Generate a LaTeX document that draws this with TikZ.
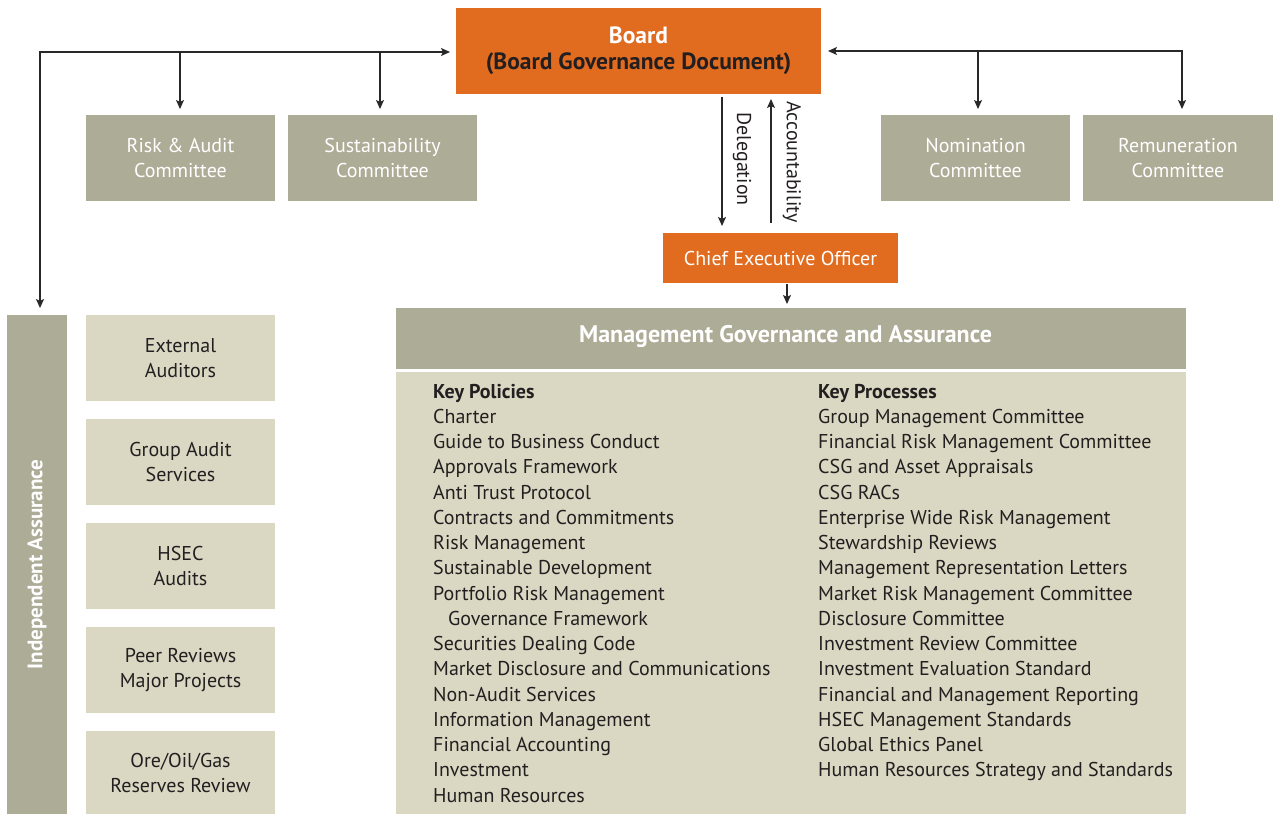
\documentclass[tikz,border=0pt]{standalone}
\usepackage{fontspec}
\setmainfont{PT Sans}
\usetikzlibrary{arrows.meta}
\definecolor{corange}{RGB}{225,108,32}
\definecolor{cgray}{RGB}{173,172,151}
\definecolor{clight}{RGB}{218,216,195}
\definecolor{ctext}{RGB}{35,31,32}
\definecolor{cline}{RGB}{40,40,40}
\newcommand{\fsz}[2]{\fontsize{#1}{#2}\selectfont}
\begin{document}
\begin{tikzpicture}[x=1pt,y=-1pt,
  base/.style={inner sep=0pt, outer sep=0pt, align=center},
  gbox/.style={base, fill=cgray, text=white, font=\fsz{20}{25}},
  lbox/.style={base, fill=clight, text=ctext, font=\fsz{20}{25}},
  obox/.style={base, fill=corange, text=white},
  arr/.style={draw=cline, line width=1.3pt, -{Stealth[length=9pt,width=8pt,inset=2pt]}},
  darr/.style={draw=cline, line width=1.3pt, {Stealth[length=9pt,width=8pt,inset=2pt]}-{Stealth[length=9pt,width=8pt,inset=2pt]}},
  lbl/.style={inner sep=0pt, text=ctext, font=\fsz{20}{25}},
  listtxt/.style={inner sep=0pt, text=ctext, font=\fsz{20}{25}, anchor=base west}]
\useasboundingbox (0,0) rectangle (1273,814);
% Board and CEO
\node[obox, minimum width=365pt, minimum height=86pt, font=\fsz{23.5}{26}\bfseries] (board) at (638.5,51)
  {Board\\{\color{ctext}(Board Governance Document)}};
\node[obox, minimum width=235pt, minimum height=50pt, font=\fsz{20}{25}] (ceo) at (780.5,258) {Chief Executive Officer};
% Committees
\node[gbox, minimum width=189pt, minimum height=86pt] (risk) at (180.5,158) {Risk \& Audit\\Committee};
\node[gbox, minimum width=189pt, minimum height=86pt] (sust) at (382.5,158) {Sustainability\\Committee};
\node[gbox, minimum width=189pt, minimum height=86pt] (nom) at (975.5,158) {Nomination\\Committee};
\node[gbox, minimum width=190pt, minimum height=86pt] (rem) at (1178,158) {Remuneration\\Committee};
% Independent assurance
\node[gbox, minimum width=60pt, minimum height=499pt] (ia) at (37,564.5) {};
\node[text=white, font=\fsz{21}{25}\bfseries, rotate=90, inner sep=0pt] (ialbl) at (ia.center) {Independent Assurance};
\node[lbox, minimum width=189pt, minimum height=86pt] (ea) at (180.5,358) {External\\Auditors};
\node[lbox, minimum width=189pt, minimum height=86pt] (gas) at (180.5,462) {Group Audit\\Services};
\node[lbox, minimum width=189pt, minimum height=86pt] (hsec) at (180.5,566) {HSEC\\Audits};
\node[lbox, minimum width=189pt, minimum height=86pt] (peer) at (180.5,670) {Peer Reviews\\Major Projects};
\node[lbox, minimum width=189pt, minimum height=83pt] (ore) at (180.5,772.5) {Ore/Oil/Gas\\Reserves Review};
% Management governance
\node[base, fill=cgray, minimum width=790pt, minimum height=61pt] (mga) at (791,338.5) {};
\node[text=white, font=\fsz{24}{26}\bfseries, inner sep=0pt] (mgalbl) at (785.5,336) {Management Governance and Assurance};
\node[base, fill=clight, minimum width=790pt, minimum height=442pt] (mgbody) at (791,593) {};
\node[listtxt, font=\fsz{20}{25}\bfseries] (kpol) at (433,398) {Key Policies};
\foreach \t [count=\i] in {Charter, Guide to Business Conduct, Approvals Framework, Anti Trust Protocol,
  Contracts and Commitments, Risk Management, Sustainable Development, Portfolio Risk Management,
  \hspace*{15pt}Governance Framework, Securities Dealing Code, Market Disclosure and Communications,
  Non-Audit Services, Information Management, Financial Accounting, Investment, Human Resources}
  {\node[listtxt] (pol\i) at (433,{398+25.25*\i}) {\t};}
\node[listtxt, font=\fsz{20}{25}\bfseries] (kproc) at (818,398) {Key Processes};
\foreach \t [count=\i] in {Group Management Committee, Financial Risk Management Committee,
  CSG and Asset Appraisals, CSG RACs, Enterprise Wide Risk Management, Stewardship Reviews,
  Management Representation Letters, Market Risk Management Committee, Disclosure Committee,
  Investment Review Committee, Investment Evaluation Standard, Financial and Management Reporting,
  HSEC Management Standards, Global Ethics Panel, Human Resources Strategy and Standards}
  {\node[listtxt] (proc\i) at (818,{398+25.25*\i}) {\t};}
% Junctions
\coordinate (jl) at (40,52);
\coordinate (jr) at (1182,51);
\coordinate (bra) at (180,52);
\coordinate (bsu) at (380,52);
\coordinate (bno) at (978,51);
\coordinate (dx) at (722,0);
\coordinate (ax) at (771,0);
\coordinate (cx) at (787,0);
% Connectors
\draw[darr, shorten <=6pt, shorten >=7pt] (jl -| board.west) -- (jl) -- (jl |- ia.north);
\draw[arr, shorten >=6pt] (bra) -- (bra |- risk.north);
\draw[arr, shorten >=6pt] (bsu) -- (bsu |- sust.north);
\draw[darr, shorten <=7pt, shorten >=6pt] (jr -| board.east) -- (jr) -- (jr |- rem.north);
\draw[arr, shorten >=6pt] (bno) -- (bno |- nom.north);
\draw[arr, shorten <=3pt, shorten >=7pt] (board.south -| dx) -- (ceo.north -| dx);
\draw[arr, shorten <=10pt, shorten >=5pt] (ceo.north -| ax) -- (board.south -| ax);
\draw[arr, shorten <=1pt, shorten >=4pt] (ceo.south -| cx) -- (mga.north -| cx);
% Arrow labels
\node[lbl, rotate=-90] (dlbl) at (742,159) {Delegation};
\node[lbl, rotate=-90] (albl) at (792,162) {Accountability};
\end{tikzpicture}
\end{document}
